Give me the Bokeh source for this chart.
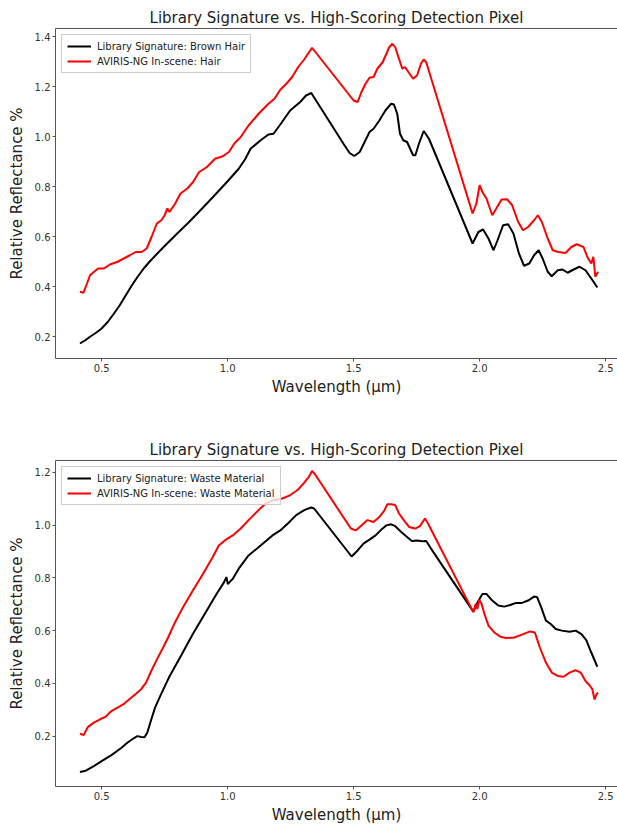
from bokeh.plotting import figure
from bokeh.layouts import column
from bokeh.models import FixedTicker, NumeralTickFormatter, Range1d, Legend, LegendItem, LinearAxis
from bokeh.embed import file_html
from bokeh.resources import INLINE

# ---------------- data ----------------
title_text = "Library Signature vs. High-Scoring Detection Pixel"
x_label = "Wavelength (\u00b5m)"
y_label = "Relative Reflectance %"
x_ticks = [0.5, 1.0, 1.5, 2.0, 2.5]
y_ticks_top = [0.2, 0.4, 0.6, 0.8, 1.0, 1.2, 1.4]
y_ticks_bottom = [0.2, 0.4, 0.6, 0.8, 1.0, 1.2]

hair_lib_wl = [0.414, 0.434, 0.454, 0.478, 0.5, 0.525, 0.549, 0.572, 0.596, 0.619, 0.643, 0.667, 0.69,
               0.72, 0.753, 0.8, 0.847, 0.895, 0.942, 1.0, 1.044, 1.07, 1.091,
               1.131, 1.162, 1.182, 1.209, 1.248, 1.288, 1.311, 1.332,
               1.461, 1.484, 1.503, 1.524, 1.547, 1.563, 1.579, 1.602, 1.626, 1.649, 1.66, 1.673,
               1.684, 1.697, 1.712, 1.736, 1.745, 1.759, 1.778, 1.799,
               1.972, 1.995, 2.014, 2.035, 2.055, 2.071, 2.093, 2.113, 2.134, 2.156, 2.176, 2.197,
               2.216, 2.234, 2.25, 2.27, 2.286, 2.31, 2.329, 2.349, 2.373, 2.396, 2.42, 2.443, 2.467]
hair_lib_refl = [0.172, 0.184, 0.199, 0.215, 0.232, 0.259, 0.292, 0.325, 0.365, 0.403, 0.439, 0.472, 0.499,
                 0.531, 0.565, 0.612, 0.658, 0.708, 0.758, 0.821, 0.871, 0.91, 0.951,
                 0.985, 1.008, 1.011, 1.048, 1.104, 1.138, 1.164, 1.174,
                 0.969, 0.934, 0.922, 0.938, 0.985, 1.018, 1.031, 1.064, 1.104, 1.131, 1.128, 1.091,
                 1.011, 0.985, 0.978, 0.925, 0.925, 0.971, 1.022, 0.991,
                 0.572, 0.618, 0.628, 0.592, 0.545, 0.585, 0.645, 0.649, 0.612, 0.532, 0.483, 0.492,
                 0.525, 0.545, 0.512, 0.459, 0.441, 0.465, 0.468, 0.455, 0.468, 0.479, 0.465, 0.432, 0.396]

hair_scene_wl = [0.414, 0.428, 0.442, 0.454, 0.47, 0.486, 0.509, 0.533, 0.564, 0.588, 0.612, 0.635, 0.659,
                 0.679, 0.698, 0.719, 0.737, 0.75, 0.761, 0.769, 0.792, 0.813, 0.84, 0.863, 0.887, 0.918,
                 0.95, 0.981, 1.005, 1.028, 1.052, 1.083, 1.123, 1.162, 1.186, 1.209, 1.233, 1.256, 1.28,
                 1.303, 1.319, 1.335,
                 1.5, 1.516, 1.531, 1.547, 1.563, 1.579, 1.594, 1.615, 1.63, 1.641, 1.654, 1.665, 1.678,
                 1.693, 1.704, 1.717, 1.736, 1.752, 1.767, 1.778, 1.788,
                 1.972, 1.987, 2.0, 2.011, 2.027, 2.05, 2.066, 2.087, 2.109, 2.129, 2.153, 2.172, 2.192,
                 2.216, 2.231, 2.247, 2.27, 2.29, 2.312, 2.341, 2.364, 2.385, 2.412, 2.427, 2.435, 2.443,
                 2.451, 2.459, 2.47]
hair_scene_refl = [0.379, 0.375, 0.412, 0.445, 0.459, 0.472, 0.472, 0.488, 0.499, 0.512, 0.525, 0.538, 0.538,
                   0.552, 0.598, 0.652, 0.665, 0.685, 0.712, 0.698, 0.732, 0.772, 0.792, 0.818, 0.858, 0.878,
                   0.911, 0.921, 0.938, 0.974, 0.998, 1.044, 1.091, 1.131, 1.151, 1.187, 1.211, 1.238, 1.278,
                   1.307, 1.331, 1.355,
                   1.144, 1.138, 1.178, 1.211, 1.235, 1.238, 1.271, 1.297, 1.331, 1.357, 1.371, 1.357, 1.317,
                   1.271, 1.278, 1.258, 1.231, 1.245, 1.291, 1.308, 1.297,
                   0.692, 0.732, 0.805, 0.778, 0.752, 0.685, 0.712, 0.748, 0.749, 0.725, 0.658, 0.625, 0.638,
                   0.665, 0.685, 0.658, 0.592, 0.545, 0.538, 0.534, 0.558, 0.569, 0.558, 0.519, 0.505, 0.492,
                   0.519, 0.439, 0.459]

waste_lib_wl = [0.414, 0.437, 0.469, 0.5, 0.539, 0.579, 0.602, 0.626, 0.642, 0.657, 0.67, 0.681, 0.697,
                0.712, 0.736, 0.767, 0.815, 0.862, 0.909, 0.956, 0.986, 0.995, 1.001, 1.02, 1.044, 1.083,
                1.131, 1.178, 1.209, 1.241, 1.272, 1.304, 1.331, 1.343,
                1.492, 1.516, 1.539, 1.563, 1.587, 1.61, 1.63, 1.649, 1.665, 1.689, 1.712, 1.731, 1.752,
                1.772, 1.788, 1.807,
                1.975, 1.992, 2.011, 2.027, 2.05, 2.074, 2.098, 2.121, 2.145, 2.168, 2.192, 2.216, 2.228,
                2.244, 2.263, 2.282, 2.302, 2.326, 2.357, 2.381, 2.404, 2.423, 2.443, 2.467]
waste_lib_refl = [0.064, 0.069, 0.086, 0.105, 0.128, 0.156, 0.175, 0.191, 0.2, 0.197, 0.196, 0.213, 0.263,
                  0.308, 0.359, 0.422, 0.505, 0.587, 0.663, 0.739, 0.784, 0.803, 0.777, 0.796, 0.835, 0.885,
                  0.923, 0.961, 0.98, 1.008, 1.038, 1.057, 1.067, 1.063,
                  0.881, 0.904, 0.93, 0.945, 0.961, 0.983, 0.999, 1.003, 0.996, 0.974, 0.955, 0.94, 0.942,
                  0.939, 0.94, 0.911,
                  0.672, 0.708, 0.739, 0.739, 0.714, 0.695, 0.691, 0.697, 0.705, 0.705, 0.714, 0.729, 0.727,
                  0.689, 0.638, 0.625, 0.606, 0.6, 0.596, 0.6, 0.587, 0.564, 0.517, 0.463]

waste_scene_wl = [0.414, 0.429, 0.445, 0.469, 0.492, 0.516, 0.539, 0.563, 0.587, 0.61, 0.634, 0.657, 0.676,
                  0.697, 0.72, 0.744, 0.764, 0.791, 0.823, 0.862, 0.902, 0.941, 0.965, 0.989, 1.02, 1.052,
                  1.083, 1.123, 1.154, 1.186, 1.217, 1.249, 1.28, 1.304, 1.323, 1.335, 1.346,
                  1.489, 1.508, 1.531, 1.555, 1.579, 1.602, 1.621, 1.634, 1.649, 1.665, 1.68, 1.699, 1.72,
                  1.744, 1.763, 1.783, 1.794,
                  1.975, 1.984, 1.991, 1.998, 2.008, 2.019, 2.035, 2.058, 2.082, 2.105, 2.137, 2.168, 2.2,
                  2.219, 2.239, 2.263, 2.286, 2.31, 2.333, 2.357, 2.381, 2.401, 2.42, 2.436, 2.447, 2.456,
                  2.464, 2.47]
waste_scene_refl = [0.209, 0.204, 0.234, 0.251, 0.263, 0.274, 0.295, 0.308, 0.321, 0.34, 0.359, 0.378, 0.403,
                    0.447, 0.492, 0.536, 0.574, 0.631, 0.689, 0.752, 0.815, 0.879, 0.923, 0.942, 0.961, 0.987,
                    1.019, 1.057, 1.085, 1.095, 1.101, 1.114, 1.135, 1.161, 1.184, 1.205, 1.194,
                    0.987, 0.98, 0.999, 1.019, 1.012, 1.031, 1.054, 1.079, 1.079, 1.076, 1.044, 1.019, 0.993,
                    0.987, 0.996, 1.025, 1.008,
                    0.67, 0.701, 0.682, 0.717, 0.701, 0.663, 0.619, 0.593, 0.577, 0.572, 0.574, 0.585, 0.597,
                    0.593, 0.536, 0.479, 0.441, 0.428, 0.425, 0.441, 0.45, 0.441, 0.409, 0.393, 0.378, 0.339,
                    0.359, 0.365]

FONT = "DejaVu Sans"
FIG_WIDTH = 617


def make_panel(lib_x, lib_y, sc_x, sc_y, lib_label, sc_label, y_ticks, y_range, height,
               border_top, border_bottom):
    p = figure(width=FIG_WIDTH, height=height, output_backend="svg", toolbar_location=None,
               x_range=Range1d(0.317, 2.547), y_range=Range1d(*y_range),
               min_border_left=55, min_border_right=0, min_border_top=border_top,
               min_border_bottom=border_bottom, title=title_text)
    p.outline_line_color = None
    p.background_fill_color = "white"
    p.border_fill_color = "white"
    p.xgrid.visible = False
    p.ygrid.visible = False

    p.title.text_font = FONT
    p.title.text_font_size = "15px"
    p.title.text_font_style = "normal"
    p.title.text_color = "#222222"
    p.title.align = "center"
    p.title.standoff = 3

    for ax in (p.xaxis[0], p.yaxis[0]):
        ax.axis_line_color = "#555555"
        ax.major_tick_line_color = "#555555"
        ax.minor_tick_line_color = None
        ax.major_tick_out = 3
        ax.major_tick_in = 0
        ax.major_label_standoff = 2
        ax.major_label_text_font = FONT
        ax.major_label_text_font_size = "10px"
        ax.major_label_text_color = "#333333"
        ax.axis_label_text_font = FONT
        ax.axis_label_text_font_size = "15px"
        ax.axis_label_text_font_style = "normal"
        ax.axis_label_text_color = "#222222"
        ax.axis_label_standoff = 3
        ax.formatter = NumeralTickFormatter(format="0.0")
    p.yaxis[0].axis_label_standoff = 6

    p.xaxis[0].ticker = FixedTicker(ticks=x_ticks)
    p.yaxis[0].ticker = FixedTicker(ticks=y_ticks)
    p.xaxis[0].axis_label = x_label
    p.yaxis[0].axis_label = y_label

    top = LinearAxis(major_tick_line_color=None, minor_tick_line_color=None,
                     major_label_text_font_size="0px", axis_line_color="#555555",
                     major_label_standoff=0, major_tick_out=0, ticker=FixedTicker(ticks=[]))
    p.add_layout(top, "above")

    r1 = p.line(lib_x, lib_y, line_color="black", line_width=2)
    r2 = p.line(sc_x, sc_y, line_color="#ff0000", line_width=2)

    legend = Legend(items=[LegendItem(label=lib_label, renderers=[r1]),
                           LegendItem(label=sc_label, renderers=[r2])],
                    location="top_left", margin=6, padding=5, spacing=3,
                    label_text_font=FONT, label_text_font_size="10px", label_text_color="#222222",
                    label_height=12, glyph_height=12, glyph_width=24, label_standoff=6,
                    border_line_color="#cccccc", border_line_alpha=1.0,
                    background_fill_color="white", background_fill_alpha=0.8)
    p.add_layout(legend)
    return p


p1 = make_panel(hair_lib_wl, hair_lib_refl, hair_scene_wl, hair_scene_refl,
                "Library Signature: Brown Hair", "AVIRIS-NG In-scene: Hair",
                y_ticks_top, (0.112, 1.432), 410, 28, 52)
p2 = make_panel(waste_lib_wl, waste_lib_refl, waste_scene_wl, waste_scene_refl,
                "Library Signature: Waste Material", "AVIRIS-NG In-scene: Waste Material",
                y_ticks_bottom, (0.009, 1.245), 416, 50, 36)

layout = column(p1, p2, spacing=0)
open("out.html", "w").write(file_html(layout, INLINE))
